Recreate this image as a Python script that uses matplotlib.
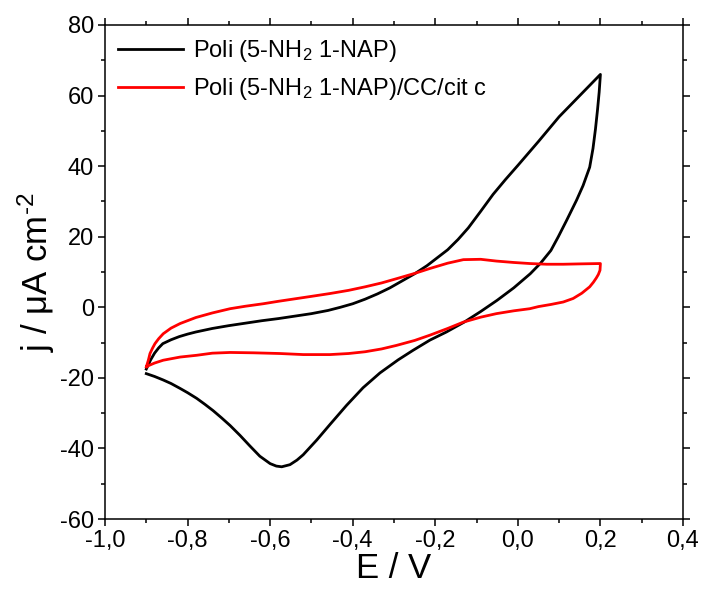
import matplotlib
matplotlib.use("Agg")
import matplotlib.pyplot as plt
from matplotlib.ticker import MultipleLocator, FuncFormatter

plt.rcParams["font.family"] = ["Liberation Sans", "DejaVu Sans"]
plt.rcParams["mathtext.fontset"] = "custom"
plt.rcParams["mathtext.rm"] = "Liberation Sans"
plt.rcParams["mathtext.it"] = "Liberation Sans:italic"
plt.rcParams["mathtext.default"] = "regular"
plt.rcParams["axes.unicode_minus"] = False

# Poli (5-NH2 1-NAP): anodic sweep then cathodic sweep
black_fwd_E = [-0.90, -0.895, -0.89, -0.88, -0.87, -0.86, -0.84, -0.82, -0.80,
               -0.78, -0.74, -0.70, -0.66, -0.62, -0.58, -0.54, -0.50,
               -0.46, -0.43, -0.40, -0.37, -0.34, -0.31, -0.28, -0.25,
               -0.22, -0.19, -0.17, -0.145, -0.12, -0.09, -0.06, -0.03,
               0.00, 0.05, 0.10, 0.15, 0.20]
black_fwd_j = [-17.5, -16.3, -15.0, -13.0, -11.5, -10.3, -9.2, -8.3, -7.6,
               -7.0, -6.0, -5.2, -4.5, -3.8, -3.2, -2.5, -1.8,
               -0.9, 0.0, 1.0, 2.3, 3.8, 5.5, 7.5, 9.5,
               11.8, 14.5, 16.3, 19.2, 22.5, 27.2, 32.0, 36.2,
               40.2, 47.0, 54.0, 60.0, 66.0]
black_rev_E = [0.20, 0.197, 0.193, 0.188, 0.182, 0.174, 0.158, 0.142, 0.118,
               0.098, 0.08, 0.055, 0.03, -0.01, -0.05, -0.09, -0.13, -0.173,
               -0.213, -0.254, -0.29, -0.334, -0.375, -0.415, -0.455,
               -0.487, -0.52, -0.535, -0.552, -0.572, -0.585, -0.60, -0.625,
               -0.649, -0.673, -0.697, -0.718, -0.738, -0.758, -0.778,
               -0.80, -0.818, -0.84, -0.859, -0.88, -0.90]
black_rev_j = [66.0, 61.0, 56.0, 50.5, 45.0, 39.7, 34.5, 30.3, 24.6,
               20.0, 16.1, 12.5, 9.5, 5.5, 2.0, -1.2, -4.2, -7.0,
               -9.3, -12.2, -14.9, -18.6, -22.8, -27.8, -33.2,
               -37.6, -41.8, -43.3, -44.6, -45.2, -45.0, -44.3, -42.2,
               -39.3, -36.3, -33.5, -31.3, -29.3, -27.5, -25.8,
               -24.2, -23.0, -21.6, -20.6, -19.6, -18.8]

# Poli (5-NH2 1-NAP)/CC/cit c
red_fwd_E = [-0.90, -0.895, -0.891, -0.885, -0.879, -0.87, -0.859, -0.84,
             -0.818, -0.78, -0.74, -0.697, -0.66, -0.617, -0.58, -0.54,
             -0.50, -0.455, -0.41, -0.37, -0.33, -0.294, -0.25, -0.213,
             -0.17, -0.132, -0.09, -0.052, -0.01, 0.029, 0.07, 0.11, 0.15,
             0.199]
red_fwd_j = [-16.9, -15.0, -13.1, -11.6, -10.3, -8.9, -7.5, -5.9,
             -4.6, -2.9, -1.6, -0.4, 0.3, 1.0, 1.7, 2.4,
             3.1, 3.9, 4.8, 5.8, 6.9, 8.1, 9.6, 11.0,
             12.5, 13.5, 13.6, 13.1, 12.7, 12.4, 12.2, 12.2, 12.3,
             12.4]
red_rev_E = [0.20, 0.199, 0.195, 0.19, 0.183, 0.174, 0.155, 0.134, 0.11,
             0.08, 0.05, 0.029, -0.01, -0.052, -0.09, -0.132, -0.17,
             -0.213, -0.25, -0.294, -0.33, -0.37, -0.41, -0.455, -0.52,
             -0.576, -0.64, -0.697, -0.74, -0.778, -0.818, -0.859, -0.88,
             -0.898]
red_rev_j = [12.4, 10.5, 9.3, 8.3, 7.1, 5.8, 4.0, 2.5, 1.5,
             0.8, 0.2, -0.4, -1.0, -1.8, -2.8, -4.2, -6.0,
             -7.9, -9.4, -10.8, -11.8, -12.6, -13.1, -13.4, -13.4,
             -13.1, -12.9, -12.8, -13.0, -13.6, -14.1, -15.0, -15.8,
             -16.7]

fig = plt.figure(figsize=(7.01, 5.95), dpi=100)
ax = fig.add_axes([0.1498, 0.1277, 0.8245, 0.8303])

ax.plot(black_fwd_E + black_rev_E, black_fwd_j + black_rev_j, color="black",
        lw=2.0, label=r"Poli (5-NH$_2$ 1-NAP)", solid_joinstyle="round")
ax.plot(red_fwd_E + red_rev_E, red_fwd_j + red_rev_j, color="#ff0000",
        lw=2.0, label=r"Poli (5-NH$_2$ 1-NAP)/CC/cit c", solid_joinstyle="round")

ax.set_xlim(-1.0, 0.4)
ax.set_ylim(-60, 80)
ax.xaxis.set_major_locator(MultipleLocator(0.2))
ax.xaxis.set_minor_locator(MultipleLocator(0.1))
ax.yaxis.set_major_locator(MultipleLocator(20))
ax.yaxis.set_minor_locator(MultipleLocator(10))
ax.xaxis.set_major_formatter(FuncFormatter(lambda v, p: f"{v:.1f}".replace(".", ",").replace("-0,0", "0,0")))
ax.yaxis.set_major_formatter(FuncFormatter(lambda v, p: f"{v:.0f}"))

for s in ax.spines.values():
    s.set_linewidth(1.1)
ax.tick_params(which="both", direction="out", top=True, right=True, width=1.1,
               labelsize=17, pad=3)
ax.tick_params(which="major", length=5)
ax.tick_params(which="minor", length=3)

ax.set_xlabel("E / V", fontsize=25, labelpad=0)
ax.set_ylabel(r"j / μA cm$^{\text{-2}}$", fontsize=25, labelpad=2)

ax.legend(loc="upper left", frameon=False, fontsize=17, handlelength=2.75,
          handletextpad=0.42, labelspacing=0.5, borderaxespad=0.2,
          borderpad=0.35)

fig.savefig("out.png", dpi=100)
